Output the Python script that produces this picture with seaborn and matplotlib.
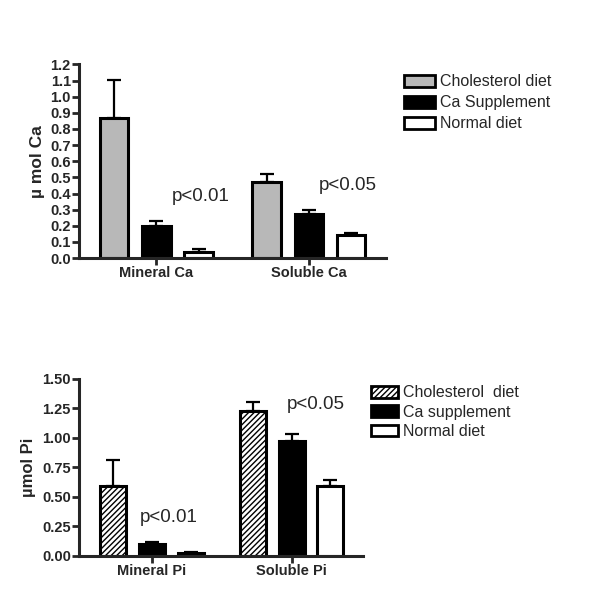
import numpy as np
import pandas as pd
import matplotlib
matplotlib.use('Agg')
import matplotlib.pyplot as plt
import seaborn as sns
from matplotlib.patches import Patch

# data
ca_groups = ['Mineral Ca', 'Soluble Ca']
ca_diets = ['Cholesterol diet', 'Ca Supplement', 'Normal diet']
ca_means = [[0.87, 0.20, 0.035], [0.47, 0.275, 0.14]]
ca_errs = [[0.235, 0.03, 0.02], [0.05, 0.02, 0.018]]

pi_groups = ['Mineral Pi', 'Soluble Pi']
pi_diets = ['Cholesterol  diet', 'Ca supplement', 'Normal diet']
pi_means = [[0.59, 0.10, 0.025], [1.23, 0.97, 0.59]]
pi_errs = [[0.225, 0.015, 0.005], [0.07, 0.06, 0.05]]

sns.set_style('ticks')
plt.rcParams['font.family'] = ['Liberation Sans', 'DejaVu Sans']
plt.rcParams['hatch.linewidth'] = 1.0

GRAY = '#b8b8b8'


def long_df(groups, diets, means):
    rows = []
    for g, vals in zip(groups, means):
        for d, v in zip(diets, vals):
            rows.append({'group': g, 'diet': d, 'value': v})
    return pd.DataFrame(rows)


def draw_panel(ax, groups, diets, means, errs, styles, ylim, yticks, ytick_fmt, ylabel, ylabel_size, xlim):
    df = long_df(groups, diets, means)
    sns.barplot(data=df, x='group', y='value', hue='diet', order=groups, hue_order=diets,
                errorbar=None, width=0.83, gap=0.33, legend=False, ax=ax)
    # patches come ordered by hue level, then by group
    for k, p in enumerate(ax.patches):
        di = k // len(groups)
        gi = k % len(groups)
        fc, hatch = styles[di]
        p.set_facecolor(fc)
        p.set_edgecolor('black')
        p.set_linewidth(2.2)
        p.set_hatch(hatch)
        xc = p.get_x() + p.get_width() / 2
        ax.errorbar(xc, means[gi][di], yerr=[[0], [errs[gi][di]]], fmt='none',
                    ecolor='black', elinewidth=1.6, capsize=5, capthick=1.6, zorder=1)
    ax.set_ylim(*ylim)
    ax.set_xlim(*xlim)
    ax.set_yticks(yticks)
    ax.set_yticklabels([ytick_fmt.format(t) for t in yticks], fontweight='bold', fontsize=10.5)
    ax.set_xticks(range(len(groups)))
    ax.set_xticklabels(groups, fontweight='bold', fontsize=10.5)
    ax.set_xlabel('')
    ax.set_ylabel(ylabel, fontweight='bold', fontsize=ylabel_size, labelpad=4)
    sns.despine(ax=ax)
    for s in ['left', 'bottom']:
        ax.spines[s].set_linewidth(2.2)
    ax.tick_params(axis='both', direction='out', width=2, length=5, pad=1)


fig = plt.figure(figsize=(6, 6.13), dpi=100)

ax1 = fig.add_axes([0.132, 0.579, 0.512, 0.316])
draw_panel(ax1, ca_groups, ca_diets, ca_means, ca_errs,
           [(GRAY, ''), ('black', ''), ('white', '')],
           (0, 1.2), np.round(np.arange(0, 1.21, 0.1), 1), '{:.1f}', '\u00b5 mol Ca', 12.5,
           (-0.507, 1.51))
ax1.text(0.1, 0.38, 'p<0.01', fontsize=13.5, va='center')
ax1.text(1.066, 0.45, 'p<0.05', fontsize=13.5, va='center')

ax2 = fig.add_axes([0.132, 0.093, 0.473, 0.289])
draw_panel(ax2, pi_groups, pi_diets, pi_means, pi_errs,
           [('white', '//////'), ('black', ''), ('white', '')],
           (0, 1.5), [0, 0.25, 0.5, 0.75, 1.0, 1.25, 1.5], '{:.2f}', '\u00b5mol Pi', 12,
           (-0.52, 1.51))
ax2.text(-0.086, 0.33, 'p<0.01', fontsize=13.5, va='center')
ax2.text(0.964, 1.28, 'p<0.05', fontsize=13.5, va='center')

h1 = [Patch(facecolor=GRAY, edgecolor='black', linewidth=2),
      Patch(facecolor='black', edgecolor='black', linewidth=2),
      Patch(facecolor='white', edgecolor='black', linewidth=2)]
fig.legend(h1, ca_diets, loc='upper left', bbox_to_anchor=(0.663, 0.889), frameon=False,
           fontsize=11.5, handlelength=1.95, handleheight=0.75, handletextpad=0.3,
           labelspacing=0.375, borderaxespad=0)

h2 = [Patch(facecolor='white', edgecolor='black', linewidth=2, hatch='//////'),
      Patch(facecolor='black', edgecolor='black', linewidth=2),
      Patch(facecolor='white', edgecolor='black', linewidth=2)]
fig.legend(h2, pi_diets, loc='upper left', bbox_to_anchor=(0.608, 0.382), frameon=False,
           fontsize=11.5, handlelength=1.65, handleheight=0.75, handletextpad=0.35,
           labelspacing=0.28, borderaxespad=0)

fig.savefig('out.png', dpi=100)
